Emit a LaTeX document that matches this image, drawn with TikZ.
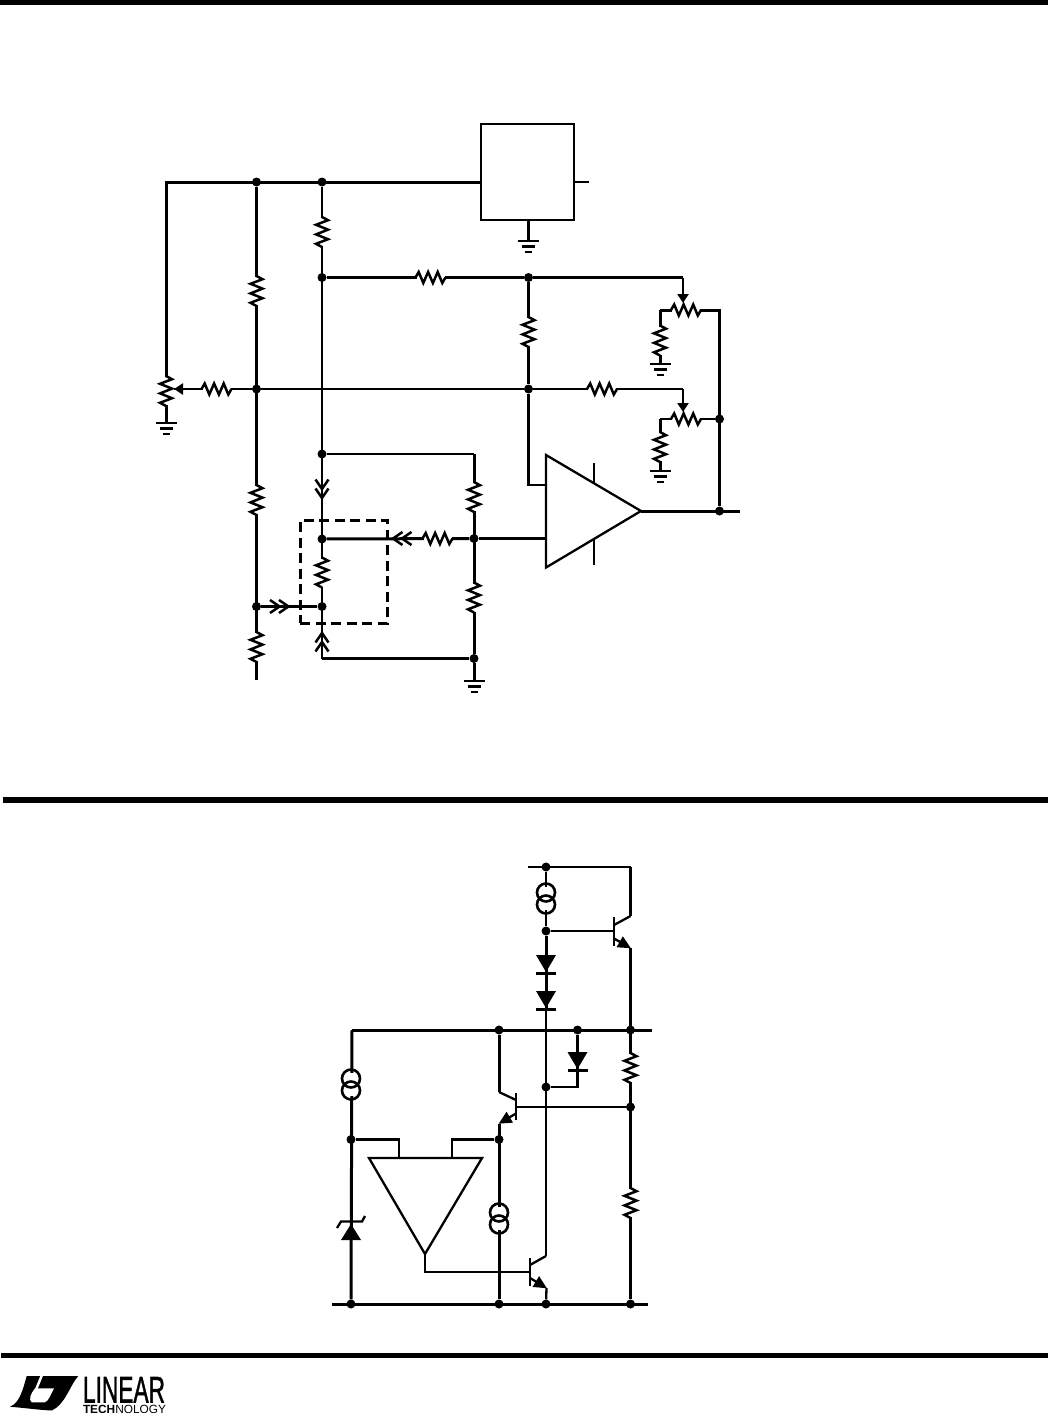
\documentclass[tikz,border=0pt]{standalone}
\usepackage{fontspec}
\setmainfont{Liberation Sans}
\usetikzlibrary{arrows.meta,calc}
\tikzset{
  x=1pt,y=-1pt,
  wire/.style={line width=2.3pt,line join=miter},
  bus/.style={line width=3pt,line join=miter},
  dot/.style={circle,fill=black,inner sep=0pt,minimum size=9pt},
  bar/.style={fill=black,draw=none},
  wiper/.style={line width=2.3pt,-{Triangle[length=9pt,width=11pt]}},
  emit/.style={line width=2.3pt,-{Triangle[length=13pt,width=12pt]},shorten >=-0.5pt},
  csrc/.style={circle,draw=black,line width=2.6pt,fill=none,inner sep=0pt,minimum size=18pt},
  resv/.pic={
    \fill[white] (-3,-14) rectangle (3,14);
    \draw[line width=2.5pt,line join=miter] (0,-15) -- (6,-11.8) -- (-6,-7.2) -- (6,-2.4) -- (-6,2.4) -- (6,7.2) -- (-6,11.8) -- (0,15);},
  resh/.pic={
    \fill[white] (-14,-3) rectangle (14,3);
    \draw[line width=2.5pt,line join=miter] (-15,0) -- (-11.8,-5.5) -- (-7.2,5.5) -- (-2.4,-5.5) -- (2.4,5.5) -- (7.2,-5.5) -- (11.8,5.5) -- (15,0);},
  chev/.pic={
    \draw[line width=2.5pt] (-6.5,-9.5) -- (0,0) -- (6.5,-9.5);
    \draw[line width=2.5pt] (-6.5,-0.5) -- (0,9) -- (6.5,-0.5);},
  gnd/.pic={
    \draw[line width=2.6pt] (-10.5,0) -- (10.5,0);
    \draw[line width=2.6pt] (-6.5,5.5) -- (6.5,5.5);
    \draw[line width=2.6pt] (-3.5,11) -- (3.5,11);},
  diode/.pic={
    \fill (-10,0) -- (10,0) -- (0,17) -- cycle;
    \draw[line width=2.3pt] (-10,18.5) -- (10,18.5);},
}
\begin{document}
\begin{tikzpicture}
\path[use as bounding box] (0,0) rectangle (1048,1413);
% page rules
\fill[bar] (0,0) rectangle (1048,5);
\fill[bar] (3,797) rectangle (1048,803);
\fill[bar] (1,1352.5) rectangle (1048,1358);

%% ---------- upper circuit ----------
\node[draw,line width=2.3pt,minimum width=93pt,minimum height=96pt,inner sep=0pt] (reg) at (527.5,172) {};
\coordinate (regL) at (481,182);
\coordinate (regR) at (574,182);
\coordinate (regOut) at (589,182);
\coordinate (regB) at (528,220);
\coordinate (gA) at (528,241);
\coordinate (potTop) at (166,182);
\coordinate (gB) at (166,423);
\coordinate (wipL) at (174,389);
\node[dot] (n1) at (256.5,182) {};
\node[dot] (n2) at (322,182) {};
\node[dot] (n3) at (322,277.5) {};
\node[dot] (n4) at (528.5,277.5) {};
\node[dot] (n5) at (256.5,389) {};
\node[dot] (n6) at (528.5,389) {};
\node[dot] (n7) at (322,454) {};
\node[dot] (n8) at (322,539) {};
\node[dot] (n9) at (322,606.5) {};
\node[dot] (n10) at (256.5,606.5) {};
\node[dot] (n11) at (474,538.5) {};
\node[dot] (n12) at (474,658.5) {};
\node[dot] (n13) at (719.5,419) {};
\node[dot] (n14) at (719.5,511) {};
\coordinate (busEnd) at (256.5,680);
\coordinate (c1) at (474,454);
\coordinate (c2) at (322,658.5);
\coordinate (gC) at (474,681);
\coordinate (in1) at (546,485);
\coordinate (in1c) at (528.5,485);
\coordinate (in2) at (546,538.5);
\coordinate (ampOut) at (641,511);
\coordinate (out) at (740,511);
\coordinate (w1c) at (683,277.5);
\coordinate (w1) at (683,303);
\coordinate (w2c) at (683,389);
\coordinate (w2) at (683,412);
\coordinate (p1L) at (660,310);
\coordinate (p1R) at (719.5,310);
\coordinate (p2L) at (660,419);
\coordinate (g1) at (660,364);
\coordinate (g2) at (660,471);

% wires
\draw[bus] (regL) -- (potTop) -- (gB);
\draw[wire] (regR) -- (regOut);
\draw[bus] (regB) -- (gA);
\draw[bus] (n1) -- (busEnd);
\draw[wire] (n5) -- (wipL);
\draw[wire] (n2) -- (c2);
\draw[wire] (n5) -- (n6) -- (w2c);
\draw[wire] (n3) -- (n4) -- (w1c);
\draw[wire] (n4) -- (n6) -- (in1c) -- (in1);
\draw[wire] (n7) -- (c1);
\draw[bus] (c1) -- (n12);
\draw[bus] (c2) -- (n12) -- (gC);
\draw[bus] (n8) -- (n11);
\draw[bus] (n11) -- (in2);
\draw[bus] (n10) -- (n9);
\draw[bus] (p1L) -- (p1R) -- (n14);
\draw[wire] (p2L) -- (n13);
\draw[bus] (ampOut) -- (out);
\draw[bus] (p1L) -- (g1);
\draw[bus] (p2L) -- (g2);
\draw[wiper] (w1c) -- (w1);
\draw[wiper] (w2c) -- (w2);
\draw[wiper] (n5) -- (wipL);

% amplifier
\coordinate (ampA) at (546,455);
\coordinate (ampB) at (546,567.5);
\coordinate (supT) at (594,463);
\coordinate (supTe) at (594,483);
\coordinate (supB) at (594,565);
\coordinate (supBe) at (594,539);
\draw[wire] (supT) -- (supTe);
\draw[wire] (supB) -- (supBe);
\draw[line width=2.3pt,line join=miter,fill=white] (ampA) -- (ampB) -- (ampOut) -- cycle;

% dashed box
\node[draw,dash pattern=on 10pt off 5.5pt,line width=3pt,minimum width=87pt,minimum height=103pt,inner sep=0pt] (dbox) at (343.5,571.5) {};

% resistors
\pic at (322,232) {resv};
\pic at (256.5,291) {resv};
\pic at (256.5,500) {resv};
\pic at (256.5,647) {resv};
\pic at (322,572.5) {resv};
\pic at (474,497) {resv};
\pic at (474,597.5) {resv};
\pic at (528.5,332) {resv};
\pic at (166,391) {resv};
\pic at (660,340.5) {resv};
\pic at (660,447) {resv};
\pic at (216.5,389) {resh};
\pic at (430.5,277.5) {resh};
\pic at (437.5,538.5) {resh};
\pic at (602,389) {resh};
\pic at (686,310) {resh};
\pic at (686,419) {resh};
% grounds
\pic at (gA) {gnd};
\pic at (gB) {gnd};
\pic at (gC) {gnd};
\pic at (g1) {gnd};
\pic at (g2) {gnd};
% chevrons
\pic at (322,489) {chev};
\pic[rotate=180] at (322,642) {chev};
\pic[rotate=90] at (279.5,606.5) {chev};
\pic[rotate=-90] at (402,538.5) {chev};

%% ---------- lower circuit ----------
\node[dot] (m1) at (546,867) {};
\node[dot] (m2) at (546,931) {};
\node[dot] (m3) at (499,1030) {};
\node[dot] (m4) at (577.5,1030) {};
\node[dot] (m5) at (630.5,1030) {};
\node[dot] (m6) at (546,1087) {};
\node[dot] (m7) at (630.5,1107) {};
\node[dot] (m8) at (499,1139.5) {};
\node[dot] (m9) at (351,1139.5) {};
\node[dot] (m10) at (351,1304) {};
\node[dot] (m11) at (499,1304) {};
\node[dot] (m12) at (546,1304) {};
\node[dot] (m13) at (630.5,1304) {};
\coordinate (tl) at (528,867);
\coordinate (tr) at (630.5,867);
\coordinate (q1c) at (630.5,916);
\coordinate (q1e) at (630.5,948);
\coordinate (q1b) at (614,931);
\coordinate (q1ct) at (614,925);
\coordinate (q1et) at (614,938.5);
\coordinate (q1a) at (614,917);
\coordinate (q1z) at (614,946);
\coordinate (rl) at (352,1030);
\coordinate (rr) at (652,1030);
\coordinate (q2c) at (499,1092);
\coordinate (q2ct) at (516,1100);
\coordinate (q2b) at (516,1107);
\coordinate (q2et) at (516,1113.5);
\coordinate (q2e) at (499,1123.5);
\coordinate (q2a) at (516,1093);
\coordinate (q2z) at (516,1120);
\coordinate (dc) at (577.5,1087);
\coordinate (ta1) at (399,1139.5);
\coordinate (ta2) at (399,1158);
\coordinate (tb1) at (452,1139.5);
\coordinate (tb2) at (452,1158);
\coordinate (opA) at (369,1158);
\coordinate (opB) at (482,1158);
\coordinate (opC) at (425,1254);
\coordinate (opw) at (425,1272);
\coordinate (q3b) at (530,1272);
\coordinate (q3a) at (530,1258);
\coordinate (q3z) at (530,1286);
\coordinate (q3ct) at (530,1265);
\coordinate (q3c) at (546,1256);
\coordinate (q3et) at (530,1278);
\coordinate (q3e) at (546.5,1288);
\coordinate (bl) at (332,1304);
\coordinate (br) at (648,1304);
\coordinate (dj) at (546,1010);

\draw[wire] (tl) -- (tr);
\draw[bus] (tr) -- (q1c);
\draw[wire] (q1c) -- (q1ct);
\draw[wire] (q1a) -- (q1z);
\draw[emit] (q1et) -- (q1e);
\draw[wire] (m2) -- (q1b);
\draw[bus] (q1e) -- (m13);
\draw[wire] (m1) -- (m2);
\draw[bus] (m2) -- (dj);
\draw[wire] (dj) -- (q3c);
\draw[wire] (q3c) -- (q3ct);
\draw[wire] (q3a) -- (q3z);
\draw[emit] (q3et) -- (q3e);
\draw[wire] (q3e) -- (m12);
\draw[bus] (rl) -- (rr);
\draw[bus] (rl) -- (m10);
\draw[bus] (m3) -- (q2c);
\draw[wire] (q2c) -- (q2ct);
\draw[wire] (q2a) -- (q2z);
\draw[wire] (q2b) -- (m7);
\draw[emit] (q2et) -- (q2e);
\draw[bus] (q2e) -- (m11);
\draw[wire] (m4) -- (dc) -- (m6);
\draw[wire] (m9) -- (ta1) -- (ta2);
\draw[wire] (m8) -- (tb1) -- (tb2);
\draw[bus] (bl) -- (br);
\draw[wire] (opC) -- (opw) -- (q3b);
\draw[line width=2.3pt,line join=miter,fill=white] (opA) -- (opB) -- (opC) -- cycle;

% current sources
\fill[white] (541,887) rectangle (551,910);
\node[csrc] (cs1a) at (546,892.5) {};
\node[csrc] (cs1b) at (546,904.5) {};
\fill[white] (346,1073) rectangle (356,1096);
\node[csrc] (cs2a) at (351,1078.5) {};
\node[csrc] (cs2b) at (351,1090.5) {};
\fill[white] (494,1207) rectangle (504,1230);
\node[csrc] (cs3a) at (499,1212.5) {};
\node[csrc] (cs3b) at (499,1224.5) {};

% diodes
\pic at (546,955) {diode};
\pic at (546,991) {diode};
\pic at (577.5,1052) {diode};
% zener
\fill (351,1224) -- (361,1240) -- (341,1240) -- cycle;
\draw[line width=2.3pt] (337,1228) -- (341,1221.5) -- (362,1221.5) -- (365,1216);
% resistors
\pic at (630.5,1068) {resv};
\pic at (630.5,1203) {resv};

%% ---------- logo ----------
\fill (10,1406.7) .. controls (20,1403) and (23.3,1388) .. (26.7,1376)
  -- (78.3,1376) .. controls (70,1385) and (65,1405) .. (51.7,1410.5)
  .. controls (40,1410) and (30,1408.5) .. (10,1406.7) -- cycle;
\fill[white] (35,1388.3) -- (54,1388.3) .. controls (50.7,1395) and (48.3,1401) .. (45,1402.3)
  -- (31.7,1402.3) .. controls (28.3,1400) and (30.7,1393.3) .. (35,1388.3) -- cycle;
\fill[white] (40.7,1375) -- (43.3,1375) -- (37.7,1388.8) -- (35,1388.8) -- cycle;
\node[inner sep=0pt,outer sep=0pt,anchor=south west] (linear) at (83,1402.5) {\resizebox{82pt}{25.5pt}{\addfontfeature{FakeBold=1.5}LINEAR}};
\node[inner sep=0pt,outer sep=0pt,anchor=north west] (tech) at (83,1405) {\resizebox{83pt}{!}{\textbf{TECH}NOLOGY}};
\end{tikzpicture}
\end{document}
